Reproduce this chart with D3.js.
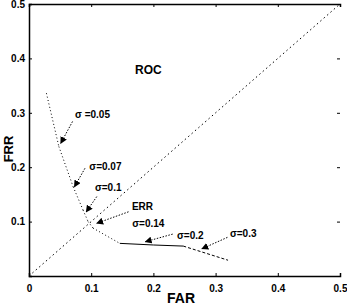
<!doctype html>
<html>
<head>
<meta charset="utf-8">
<style>
    body { margin: 0; background: #fff; }
    svg { display: block; }
    text { font-family: 'Liberation Sans', Arial, sans-serif; font-weight: bold; fill: #000; }
    .tick text { font-size: 10px; }
    .ann { font-size: 10px; }
</style>
<script src="https://d3js.org/d3.v7.min.js"></script>
</head>
<body>
<svg width="347" height="306"></svg>
<script>
// ROC curve (FAR, FRR), split by line style
const far = [0.028, 0.048, 0.071, 0.087, 0.095, 0.103, 0.146, 0.200, 0.248, 0.320];
const frr = [0.336, 0.238, 0.164, 0.121, 0.100, 0.088, 0.060, 0.057, 0.055, 0.029];
const styles = ['dot', 'dot', 'dot', 'dot', 'dot', 'dot', 'solid', 'solid', 'dash'];

const xTicks = [0, 0.1, 0.2, 0.3, 0.4, 0.5];
const yTicks = [0.1, 0.2, 0.3, 0.4, 0.5];

// annotations: text, text x/y, arrow from x/y to x/y (data units)
const annText = ['\u03c3 =0.05', '\u03c3=0.07', '\u03c3=0.1', '\u03c3=0.14', '\u03c3=0.2', '\u03c3=0.3'];
const annX    = [0.074, 0.097, 0.106, 0.166, 0.238, 0.323];
const annY    = [0.291, 0.195, 0.156, 0.090, 0.068, 0.071];
const arrX1   = [0.070, 0.090, 0.109, 0.160, 0.231, 0.319];
const arrY1   = [0.284, 0.198, 0.146, 0.118, 0.077, 0.071];
const arrX2   = [0.051, 0.073, 0.092, 0.109, 0.187, 0.278];
const arrY2   = [0.244, 0.164, 0.118, 0.097, 0.063, 0.050];

const svg = d3.select('svg');
const mLeft = 29, mRight = 340, mTop = 4, mBottom = 276;

const x = d3.scaleLinear().domain([0, 0.5]).range([mLeft, mRight]);
const y = d3.scaleLinear().domain([0, 0.5]).range([mBottom, mTop]);

// axes, ticks pointing inward
svg.append('g')
    .attr('transform', `translate(0,${mBottom})`)
    .call(d3.axisBottom(x).tickValues(xTicks).tickSize(-3).tickPadding(9)
        .tickFormat(d => d === 0 ? '0' : d3.format('.1f')(d)));
svg.append('g')
    .attr('transform', `translate(${mLeft},0)`)
    .call(d3.axisLeft(y).tickValues(yTicks).tickSize(-3).tickPadding(4).tickFormat(d3.format('.1f')));
svg.append('g')
    .attr('transform', `translate(0,${mTop})`)
    .call(d3.axisTop(x).tickValues(xTicks).tickSize(-3).tickFormat(''));
svg.append('g')
    .attr('transform', `translate(${mRight},0)`)
    .call(d3.axisRight(y).tickValues(yTicks).tickSize(-3).tickFormat(''))
    .select('.domain').remove();

svg.selectAll('.domain').attr('stroke', '#000').attr('stroke-width', 1.5);
svg.selectAll('.tick line').attr('stroke', '#000');

// diagonal (EER line)
svg.append('line')
    .attr('x1', x(0)).attr('y1', y(0))
    .attr('x2', x(0.5)).attr('y2', y(0.5))
    .attr('stroke', '#000').attr('stroke-width', 1)
    .attr('stroke-dasharray', '1.5,3');

// ROC curve segments
const dash = { dot: '1,2.5', solid: null, dash: '3,2' };
styles.forEach((s, i) => {
    svg.append('line')
        .attr('x1', x(far[i])).attr('y1', y(frr[i]))
        .attr('x2', x(far[i + 1])).attr('y2', y(frr[i + 1]))
        .attr('stroke', '#000').attr('stroke-width', 1)
        .attr('stroke-dasharray', dash[s]);
});

// arrow marker
svg.append('defs').append('marker')
    .attr('id', 'head')
    .attr('viewBox', '0 0 10 10')
    .attr('refX', 9).attr('refY', 5)
    .attr('markerWidth', 7).attr('markerHeight', 7)
    .attr('markerUnits', 'userSpaceOnUse')
    .attr('orient', 'auto')
    .append('path').attr('d', 'M0,0 L10,5 L0,10 Z').attr('fill', '#000');

annText.forEach((t, i) => {
    svg.append('line')
        .attr('x1', x(arrX1[i])).attr('y1', y(arrY1[i]))
        .attr('x2', x(arrX2[i])).attr('y2', y(arrY2[i]))
        .attr('stroke', '#000').attr('stroke-width', 1)
        .attr('stroke-dasharray', '1.5,1.5')
        .attr('marker-end', 'url(#head)');
    svg.append('text').attr('class', 'ann')
        .attr('x', x(annX[i])).attr('y', y(annY[i]))
        .text(t);
});

svg.append('text').attr('class', 'ann')
    .attr('x', x(0.1825)).attr('y', y(0.121))
    .attr('text-anchor', 'middle')
    .text('ERR');

svg.append('text')
    .attr('x', x(0.192)).attr('y', y(0.372))
    .attr('text-anchor', 'middle').style('font-size', '12px')
    .text('ROC');

svg.append('text')
    .attr('x', 181).attr('y', 303)
    .attr('text-anchor', 'middle').style('font-size', '14px')
    .text('FAR');

svg.append('text')
    .attr('transform', 'translate(13,149) rotate(-90)')
    .attr('text-anchor', 'middle').style('font-size', '13px')
    .text('FRR');
</script>
</body>
</html>
